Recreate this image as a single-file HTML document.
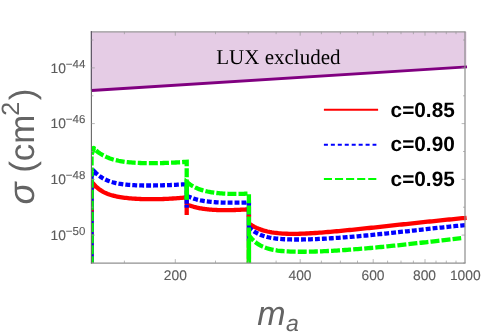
<!DOCTYPE html>
<html><head><meta charset="utf-8"><style>
html,body{margin:0;padding:0;background:#fff;overflow:hidden;}
html{width:498px;height:334px;}
body{width:498px;height:334px;position:relative;overflow:hidden;font-family:"Liberation Sans",sans-serif;}
.t{position:absolute;white-space:nowrap;line-height:1;text-rendering:geometricPrecision;}
#txt{position:absolute;left:0;top:0;width:498px;height:334px;will-change:transform;overflow:hidden;}
.tick{color:#5c5c5c;font-size:13.8px;-webkit-text-stroke:0.12px #5c5c5c;}
.tick sup{font-size:11.5px;vertical-align:baseline;position:relative;top:-4.9px;}
.xt{transform:translateX(-50%);}
.leg{font-weight:bold;font-size:20.8px;color:#000;}
</style></head><body>
<svg width="498" height="334" viewBox="0 0 498 334" style="position:absolute;left:0;top:0"><rect width="498" height="334" fill="#fff"/><defs><clipPath id="cp"><rect x="91.4" y="31.8" width="376.6" height="231.2"/></clipPath></defs><path d="M91.4,31.8 L466.4,31.8 L466.4,66.9 L91.4,90.5 Z" fill="#e5cce5"/><g clip-path="url(#cp)"><path d="M91.55,266.00 L91.55,189.30 L93.90,184.30 L95.45,185.98 L96.99,187.46 L98.54,188.75 L100.09,189.90 L101.63,190.91 L103.18,191.80 L104.73,192.59 L106.27,193.30 L107.82,193.92 L109.37,194.49 L110.91,194.99 L112.46,195.44 L114.01,195.84 L115.55,196.21 L117.10,196.54 L118.65,196.84 L120.19,197.11 L121.74,197.35 L123.29,197.58 L124.83,197.78 L126.38,197.96 L127.93,198.13 L129.47,198.28 L131.02,198.42 L132.57,198.54 L134.11,198.65 L135.66,198.75 L137.21,198.84 L138.75,198.92 L140.30,198.99 L141.85,199.05 L143.39,199.10 L144.94,199.14 L146.49,199.17 L148.03,199.19 L149.58,199.21 L151.13,199.22 L152.67,199.21 L154.22,199.21 L155.77,199.19 L157.31,199.17 L158.86,199.13 L160.41,199.10 L161.95,199.05 L163.50,199.00 L165.05,198.93 L166.59,198.87 L168.14,198.79 L169.69,198.71 L171.23,198.62 L172.78,198.52 L174.33,198.42 L175.87,198.31 L177.42,198.19 L178.97,198.06 L180.51,197.93 L182.06,197.79 L183.61,197.64 L185.15,197.49 L186.70,197.33 L186.70,214.90 L186.70,204.37 L187.74,204.79 L188.77,205.19 L189.81,205.56 L190.85,205.92 L191.88,206.25 L192.92,206.56 L193.96,206.86 L194.99,207.13 L196.03,207.39 L197.07,207.64 L198.10,207.86 L199.14,208.08 L200.18,208.28 L201.21,208.46 L202.25,208.64 L203.29,208.80 L204.32,208.95 L205.36,209.08 L206.40,209.21 L207.43,209.33 L208.47,209.44 L209.51,209.54 L210.54,209.63 L211.58,209.71 L212.62,209.79 L213.65,209.85 L214.69,209.91 L215.73,209.97 L216.76,210.01 L217.80,210.05 L218.84,210.09 L219.87,210.11 L220.91,210.14 L221.95,210.15 L222.98,210.17 L224.02,210.17 L225.06,210.18 L226.09,210.17 L227.13,210.17 L228.17,210.16 L229.20,210.14 L230.24,210.13 L231.28,210.10 L232.31,210.08 L233.35,210.05 L234.39,210.02 L235.42,209.98 L236.46,209.95 L237.50,209.91 L238.53,209.86 L239.57,209.81 L240.61,209.77 L241.64,209.71 L242.68,209.66 L243.72,209.60 L244.75,209.54 L245.79,209.48 L246.83,209.42 L247.86,209.36 L248.90,209.29 L248.90,266.00 L248.90,228.31 L250.10,224.31 L252.26,225.65 L254.43,226.84 L256.59,227.89 L258.76,228.81 L260.93,229.63 L263.09,230.34 L265.25,230.96 L267.42,231.50 L269.58,231.96 L271.75,232.36 L273.92,232.70 L276.08,232.98 L278.25,233.22 L280.41,233.41 L282.57,233.57 L284.74,233.68 L286.90,233.77 L289.07,233.83 L291.24,233.86 L293.40,233.86 L295.56,233.84 L297.73,233.81 L299.89,233.76 L302.06,233.69 L304.23,233.60 L306.39,233.50 L308.56,233.40 L310.72,233.27 L312.88,233.14 L315.05,233.00 L317.22,232.86 L319.38,232.70 L321.55,232.54 L323.71,232.37 L325.88,232.19 L328.04,232.01 L330.20,231.83 L332.37,231.64 L334.54,231.45 L336.70,231.25 L338.87,231.05 L341.03,230.84 L343.19,230.64 L345.36,230.43 L347.52,230.21 L349.69,230.00 L351.86,229.78 L354.02,229.56 L356.19,229.34 L358.35,229.12 L360.51,228.90 L362.68,228.67 L364.85,228.44 L367.01,228.22 L369.18,227.99 L371.34,227.76 L373.50,227.53 L375.67,227.30 L377.84,227.07 L380.00,226.83 L382.17,226.60 L384.33,226.37 L386.50,226.13 L388.66,225.90 L390.83,225.67 L392.99,225.43 L395.15,225.20 L397.32,224.96 L399.49,224.73 L401.65,224.49 L403.82,224.26 L405.98,224.03 L408.14,223.79 L410.31,223.56 L412.48,223.33 L414.64,223.10 L416.81,222.87 L418.97,222.63 L421.13,222.40 L423.30,222.18 L425.47,221.95 L427.63,221.72 L429.80,221.49 L431.96,221.27 L434.12,221.04 L436.29,220.82 L438.46,220.59 L440.62,220.37 L442.79,220.15 L444.95,219.93 L447.12,219.72 L449.28,219.50 L451.45,219.28 L453.61,219.07 L455.78,218.86 L457.94,218.65 L460.11,218.44 L462.27,218.23 L464.44,218.03 L466.60,217.83" fill="none" stroke="#ff0000" stroke-width="4.3"/><rect x="89.40" y="174.31" width="4.3" height="91.69" fill="#0000ff"/><path d="M91.55,176.31 L94.20,171.31 L94.20,171.31 L95.74,172.88 L97.28,174.28 L98.83,175.53 L100.37,176.65 L101.91,177.65 L103.45,178.55 L104.99,179.35 L106.53,180.07 L108.08,180.71 L109.62,181.28 L111.16,181.80 L112.70,182.25 L114.24,182.66 L115.78,183.03 L117.33,183.36 L118.87,183.65 L120.41,183.90 L121.95,184.13 L123.49,184.34 L125.03,184.52 L126.57,184.68 L128.12,184.82 L129.66,184.94 L131.20,185.05 L132.74,185.14 L134.28,185.22 L135.82,185.29 L137.37,185.35 L138.91,185.40 L140.45,185.44 L141.99,185.47 L143.53,185.49 L145.07,185.50 L146.62,185.51 L148.16,185.51 L149.70,185.51 L151.24,185.50 L152.78,185.48 L154.32,185.46 L155.87,185.44 L157.41,185.41 L158.95,185.38 L160.49,185.34 L162.03,185.30 L163.57,185.25 L165.12,185.21 L166.66,185.15 L168.20,185.10 L169.74,185.04 L171.28,184.98 L172.82,184.91 L174.37,184.85 L175.91,184.78 L177.45,184.70 L178.99,184.63 L180.53,184.55 L182.07,184.46 L183.62,184.38 L185.16,184.29 L186.70,184.20" fill="none" stroke="#0000ff" stroke-width="4.3" stroke-dasharray="4.9,2.05" stroke-dashoffset="1.39"/><rect x="184.55" y="184.20" width="4.3" height="19.60" fill="#0000ff"/><rect x="184.55" y="204.80" width="4.3" height="2.90" fill="#0000ff"/><path d="M186.70,195.57 L187.74,196.12 L188.77,196.63 L189.81,197.10 L190.85,197.53 L191.88,197.94 L192.92,198.32 L193.96,198.67 L194.99,198.99 L196.03,199.29 L197.07,199.57 L198.10,199.83 L199.14,200.08 L200.18,200.30 L201.21,200.51 L202.25,200.70 L203.29,200.88 L204.32,201.05 L205.36,201.20 L206.40,201.34 L207.43,201.48 L208.47,201.60 L209.51,201.71 L210.54,201.82 L211.58,201.91 L212.62,202.00 L213.65,202.09 L214.69,202.16 L215.73,202.23 L216.76,202.29 L217.80,202.35 L218.84,202.40 L219.87,202.45 L220.91,202.49 L221.95,202.53 L222.98,202.57 L224.02,202.60 L225.06,202.62 L226.09,202.65 L227.13,202.67 L228.17,202.68 L229.20,202.70 L230.24,202.71 L231.28,202.71 L232.31,202.72 L233.35,202.72 L234.39,202.72 L235.42,202.72 L236.46,202.71 L237.50,202.70 L238.53,202.69 L239.57,202.68 L240.61,202.67 L241.64,202.65 L242.68,202.63 L243.72,202.61 L244.75,202.59 L245.79,202.57 L246.83,202.54 L247.86,202.51 L248.90,202.48 L248.90,204.48" fill="none" stroke="#0000ff" stroke-width="4.3" stroke-dasharray="4.9,2.05" stroke-dashoffset="6.74"/><rect x="246.75" y="202.48" width="4.3" height="38.52" fill="#0000ff"/><path d="M248.90,232.30 L250.10,228.30 L252.25,230.12 L254.40,231.66 L256.55,232.97 L258.70,234.07 L260.84,235.01 L262.99,235.79 L265.14,236.46 L267.29,237.03 L269.44,237.50 L271.59,237.90 L273.74,238.24 L275.89,238.52 L278.04,238.75 L280.19,238.95 L282.33,239.10 L284.48,239.23 L286.63,239.33 L288.78,239.40 L290.93,239.46 L293.08,239.49 L295.23,239.51 L297.38,239.51 L299.53,239.50 L301.68,239.48 L303.82,239.45 L305.97,239.40 L308.12,239.34 L310.27,239.28 L312.42,239.21 L314.57,239.13 L316.72,239.04 L318.87,238.94 L321.02,238.84 L323.17,238.73 L325.31,238.62 L327.46,238.49 L329.61,238.37 L331.76,238.23 L333.91,238.09 L336.06,237.95 L338.21,237.80 L340.36,237.65 L342.51,237.49 L344.66,237.33 L346.81,237.16 L348.95,236.99 L351.10,236.81 L353.25,236.64 L355.40,236.45 L357.55,236.27 L359.70,236.08 L361.85,235.88 L364.00,235.69 L366.15,235.49 L368.29,235.28 L370.44,235.08 L372.59,234.87 L374.74,234.66 L376.89,234.44 L379.04,234.23 L381.19,234.01 L383.34,233.79 L385.49,233.57 L387.64,233.34 L389.78,233.12 L391.93,232.89 L394.08,232.66 L396.23,232.43 L398.38,232.20 L400.53,231.97 L402.68,231.73 L404.83,231.50 L406.98,231.27 L409.13,231.03 L411.27,230.79 L413.42,230.56 L415.57,230.32 L417.72,230.09 L419.87,229.85 L422.02,229.61 L424.17,229.38 L426.32,229.14 L428.47,228.91 L430.62,228.68 L432.76,228.44 L434.91,228.21 L437.06,227.98 L439.21,227.75 L441.36,227.52 L443.51,227.29 L445.66,227.07 L447.81,226.85 L449.96,226.62 L452.11,226.40 L454.25,226.19 L456.40,225.97 L458.55,225.76 L460.70,225.55 L462.85,225.34 L465.00,225.13" fill="none" stroke="#0000ff" stroke-width="4.3" stroke-dasharray="4.9,2.05" stroke-dashoffset="4.94"/><rect x="89.40" y="209.30" width="4.3" height="2.20" fill="#ff0000"/><rect x="246.75" y="214.60" width="4.3" height="2.40" fill="#ff0000"/><rect x="246.75" y="241.00" width="4.3" height="25.00" fill="#00ff00"/><path d="M91.55,266.00 L91.55,154.43 L93.90,148.43" fill="none" stroke="#00ff00" stroke-width="4.3" stroke-dasharray="9.0,2.1" stroke-dashoffset="10.45"/><path d="M93.90,148.43 L95.45,149.89 L96.99,151.21 L98.54,152.41 L100.09,153.49 L101.63,154.47 L103.18,155.36 L104.73,156.17 L106.27,156.90 L107.82,157.57 L109.37,158.17 L110.91,158.71 L112.46,159.20 L114.01,159.65 L115.55,160.06 L117.10,160.42 L118.65,160.76 L120.19,161.06 L121.74,161.33 L123.29,161.57 L124.83,161.79 L126.38,161.99 L127.93,162.17 L129.47,162.33 L131.02,162.47 L132.57,162.59 L134.11,162.70 L135.66,162.80 L137.21,162.89 L138.75,162.96 L140.30,163.02 L141.85,163.07 L143.39,163.12 L144.94,163.15 L146.49,163.18 L148.03,163.19 L149.58,163.20 L151.13,163.21 L152.67,163.20 L154.22,163.19 L155.77,163.18 L157.31,163.15 L158.86,163.12 L160.41,163.09 L161.95,163.05 L163.50,163.01 L165.05,162.96 L166.59,162.90 L168.14,162.85 L169.69,162.78 L171.23,162.71 L172.78,162.64 L174.33,162.57 L175.87,162.48 L177.42,162.40 L178.97,162.31 L180.51,162.22 L182.06,162.12 L183.61,162.02 L185.15,161.91 L186.70,161.80 L186.70,199.80" fill="none" stroke="#00ff00" stroke-width="4.3" stroke-dasharray="9.0,2.1" stroke-dashoffset="8.19"/><circle cx="93.7" cy="147.9" r="2.15" fill="#00ff00"/><path d="M186.70,199.80 L186.70,181.92 L187.74,182.77 L188.77,183.57 L189.81,184.31 L190.85,185.00 L191.88,185.64 L192.92,186.25 L193.96,186.81 L194.99,187.34 L196.03,187.83 L197.07,188.29 L198.10,188.72 L199.14,189.12 L200.18,189.49 L201.21,189.84 L202.25,190.17 L203.29,190.48 L204.32,190.76 L205.36,191.03 L206.40,191.28 L207.43,191.51 L208.47,191.73 L209.51,191.93 L210.54,192.12 L211.58,192.29 L212.62,192.46 L213.65,192.61 L214.69,192.75 L215.73,192.88 L216.76,193.00 L217.80,193.11 L218.84,193.21 L219.87,193.31 L220.91,193.39 L221.95,193.47 L222.98,193.54 L224.02,193.61 L225.06,193.66 L226.09,193.71 L227.13,193.76 L228.17,193.80 L229.20,193.83 L230.24,193.86 L231.28,193.88 L232.31,193.90 L233.35,193.91 L234.39,193.92 L235.42,193.92 L236.46,193.92 L237.50,193.91 L238.53,193.90 L239.57,193.89 L240.61,193.87 L241.64,193.85 L242.68,193.82 L243.72,193.79 L244.75,193.75 L245.79,193.71 L246.83,193.67 L247.86,193.63 L248.90,193.58 L248.90,266.00" fill="none" stroke="#00ff00" stroke-width="4.3" stroke-dasharray="9.0,2.1" stroke-dashoffset="5.51"/><path d="M248.90,240.83 L250.10,236.83 L252.21,239.20 L254.32,241.21 L256.43,242.91 L258.54,244.35 L260.65,245.56 L262.77,246.59 L264.88,247.47 L266.99,248.21 L269.10,248.83 L271.21,249.36 L273.32,249.81 L275.43,250.19 L277.54,250.51 L279.65,250.78 L281.76,251.00 L283.88,251.19 L285.99,251.34 L288.10,251.46 L290.21,251.56 L292.32,251.64 L294.43,251.69 L296.54,251.73 L298.65,251.75 L300.76,251.76 L302.88,251.76 L304.99,251.74 L307.10,251.72 L309.21,251.68 L311.32,251.64 L313.43,251.58 L315.54,251.52 L317.65,251.45 L319.76,251.38 L321.87,251.29 L323.99,251.21 L326.10,251.11 L328.21,251.01 L330.32,250.90 L332.43,250.79 L334.54,250.67 L336.65,250.55 L338.76,250.42 L340.87,250.29 L342.98,250.15 L345.10,250.01 L347.21,249.86 L349.32,249.71 L351.43,249.55 L353.54,249.39 L355.65,249.23 L357.76,249.06 L359.87,248.89 L361.98,248.72 L364.09,248.54 L366.20,248.36 L368.32,248.17 L370.43,247.99 L372.54,247.79 L374.65,247.60 L376.76,247.40 L378.87,247.20 L380.98,247.00 L383.09,246.79 L385.20,246.59 L387.31,246.38 L389.43,246.16 L391.54,245.95 L393.65,245.73 L395.76,245.51 L397.87,245.29 L399.98,245.07 L402.09,244.84 L404.20,244.61 L406.31,244.39 L408.42,244.16 L410.54,243.93 L412.65,243.69 L414.76,243.46 L416.87,243.22 L418.98,242.99 L421.09,242.75 L423.20,242.51 L425.31,242.28 L427.42,242.04 L429.53,241.80 L431.65,241.56 L433.76,241.32 L435.87,241.08 L437.98,240.84 L440.09,240.59 L442.20,240.35 L444.31,240.11 L446.42,239.87 L448.53,239.63 L450.64,239.39 L452.76,239.15 L454.87,238.92 L456.98,238.68 L459.09,238.44 L461.20,238.21" fill="none" stroke="#00ff00" stroke-width="4.3" stroke-dasharray="9.0,2.1" stroke-dashoffset="10.69"/><path d="M91.4,90.5 L467.0,66.9" fill="none" stroke="#800080" stroke-width="2.9"/></g><path d="M90.85000000000001,31.8 H465.6" stroke="#999" stroke-width="1.3"/><path d="M90.85000000000001,263.0 H465.6" stroke="#909090" stroke-width="1.25"/><path d="M465.0,31.8 V263.0" stroke="#8c8c8c" stroke-width="1.2"/><path d="M91.4,31.2 V263.6" stroke="#666" stroke-width="1.1"/><path d="M91.4,31.2 V90.5" stroke="#625a6a" stroke-width="1.1"/><path d="M175.3,263.0 v-3.9 M175.3,31.8 v3.9 M300.2,263.0 v-3.9 M300.2,31.8 v3.9 M373.2,263.0 v-3.9 M373.2,31.8 v3.9 M425.0,263.0 v-3.9 M425.0,31.8 v3.9 M124.4,263.0 v-2.4 M124.4,31.8 v2.4 M215.5,263.0 v-2.4 M215.5,31.8 v2.4 M248.3,263.0 v-2.4 M248.3,31.8 v2.4 M276.1,263.0 v-2.4 M276.1,31.8 v2.4 M321.4,263.0 v-2.4 M321.4,31.8 v2.4 M340.4,263.0 v-2.4 M340.4,31.8 v2.4 M357.5,263.0 v-2.4 M357.5,31.8 v2.4 M387.6,263.0 v-2.4 M387.6,31.8 v2.4 M401.0,263.0 v-2.4 M401.0,31.8 v2.4 M413.4,263.0 v-2.4 M413.4,31.8 v2.4 M436.0,263.0 v-2.4 M436.0,31.8 v2.4 M446.3,263.0 v-2.4 M446.3,31.8 v2.4 M456.0,263.0 v-2.4 M456.0,31.8 v2.4 M91.4,263.0 h2.0 M465.0,263.0 h-2.0 M91.4,235.1 h3.4 M465.0,235.1 h-3.4 M91.4,207.2 h2.0 M465.0,207.2 h-2.0 M91.4,179.4 h3.4 M465.0,179.4 h-3.4 M91.4,151.5 h2.0 M465.0,151.5 h-2.0 M91.4,123.6 h3.4 M465.0,123.6 h-3.4 M91.4,95.8 h2.0 M465.0,95.8 h-2.0 M91.4,67.9 h3.4 M465.0,67.9 h-3.4 M91.4,40.0 h2.0 M465.0,40.0 h-2.0" fill="none" stroke="#999" stroke-width="0.7"/><path d="M323.9,109.8 H378.1" stroke="#ff0000" stroke-width="2"/><path d="M323.9,144.7 H376.4" stroke="#0000ff" stroke-width="2" stroke-dasharray="4,2.95"/><path d="M323.9,179.1 H376.4" stroke="#00ff00" stroke-width="2" stroke-dasharray="8.1,2.98"/></svg>
<div id="txt">
<div class="t" style="left:216.3px;top:46.6px;font-family:'Liberation Serif',serif;font-size:21px;color:#000;">LUX excluded</div>
<div class="t leg" style="left:390.6px;top:100.6px;">c=0.85</div>
<div class="t leg" style="left:390.6px;top:135.2px;">c=0.90</div>
<div class="t leg" style="left:390.6px;top:169.8px;">c=0.95</div>
<div class="t tick" style="left:50.5px;top:61.7px;">10<sup>&#8722;44</sup></div>
<div class="t tick" style="left:50.5px;top:117.3px;">10<sup>&#8722;46</sup></div>
<div class="t tick" style="left:50.5px;top:173.3px;">10<sup>&#8722;48</sup></div>
<div class="t tick" style="left:50.5px;top:228.8px;">10<sup>&#8722;50</sup></div>
<div class="t tick xt" style="left:175.3px;top:268.7px;">200</div>
<div class="t tick xt" style="left:300px;top:268.7px;">400</div>
<div class="t tick xt" style="left:373px;top:268.7px;">600</div>
<div class="t tick xt" style="left:424.5px;top:268.7px;">800</div>
<div class="t tick xt" style="left:465.3px;top:268.7px;">1000</div>
<div class="t" style="left:257.2px;top:296.5px;font-size:34px;font-style:italic;color:#646464;">m<sub style="font-size:23px;vertical-align:baseline;position:relative;top:6.4px;margin-left:0.5px;">a</sub></div>
<div class="t" style="left:0;top:0;font-size:35px;color:#646464;transform-origin:0 0;transform:translate(4px,204.6px) rotate(-90deg);"><i style="font-size:36.5px">&#963;</i> (cm<sup style="font-size:25px;vertical-align:baseline;position:relative;top:-15.5px;margin-left:-1.3px;margin-right:1.8px;">2</sup>)</div>
</div>
</body></html>
